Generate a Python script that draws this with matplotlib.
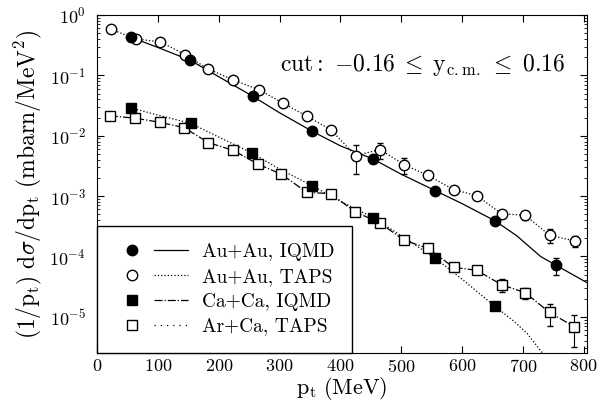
import matplotlib
matplotlib.use("Agg")
import matplotlib.pyplot as plt
from matplotlib.legend_handler import HandlerTuple
from matplotlib.lines import Line2D
import numpy as np

plt.rcParams['font.family'] = 'cmr10'
plt.rcParams['mathtext.fontset'] = 'cm'
plt.rcParams['axes.unicode_minus'] = False
plt.rcParams['axes.formatter.use_mathtext'] = True

# Au+Au, IQMD (filled circles + solid curve)
auau_iqmd_pt = [55, 153, 256, 354, 454, 556, 654, 755]
auau_iqmd_val = [0.43, 0.178, 0.045, 0.0118, 0.0041, 0.00123, 3.9e-4, 7.1e-5]
auau_iqmd_err = [0, 0, 0, 0, 0, 0, 0, 2.2e-5]
auau_curve_pt = [55, 100, 153, 200, 256, 300, 354, 400, 454, 500, 556, 600, 654, 690, 729, 755, 805]
auau_curve_val = [0.43, 0.29, 0.178, 0.095, 0.045, 0.024, 0.0118, 0.0068, 0.0041, 0.0023,
                  0.00123, 7.5e-4, 3.9e-4, 2.2e-4, 1.0e-4, 7.1e-5, 3.7e-5]

# Au+Au, TAPS (open circles)
auau_taps_pt = [23, 64, 104, 145, 183, 224, 267, 305, 345, 384, 425, 465, 505, 544, 586,
                624, 665, 704, 744, 786]
auau_taps_val = [0.58, 0.40, 0.36, 0.22, 0.127, 0.084, 0.057, 0.035, 0.021, 0.0126,
                 0.0047, 0.0059, 0.0033, 0.0022, 0.00128, 0.00102, 5.1e-4, 4.8e-4, 2.24e-4, 1.8e-4]
auau_taps_rel = [0.1, 0.08, 0.1, 0.1, 0.1, 0.1, 0.1, 0.1, 0.12, 0.12,
                 0.5, 0.3, 0.3, 0.15, 0.12, 0.12, 0.15, 0.15, 0.25, 0.2]

# Ca+Ca, IQMD (filled squares + dotted curve)
caca_iqmd_pt = [55, 154, 254, 354, 454, 555, 654]
caca_iqmd_val = [0.029, 0.016, 0.0052, 0.00148, 4.4e-4, 9.5e-5, 1.49e-5]
caca_iqmd_err = [0, 0, 0, 0, 0, 0, 1.5e-6]
caca_curve_pt = [55, 100, 154, 200, 254, 300, 354, 400, 454, 500, 555, 600, 654, 685, 707, 724, 735]
caca_curve_val = [0.029, 0.022, 0.016, 0.0095, 0.0052, 0.0028, 0.00148, 8.2e-4, 4.4e-4, 2.2e-4,
                  9.5e-5, 4.2e-5, 1.49e-5, 8.5e-6, 5.3e-6, 3.2e-6, 2.3e-6]

# Ar+Ca, TAPS (open squares)
arca_taps_pt = [21, 63, 103, 143, 183, 224, 264, 303, 345, 384, 424, 465, 504, 544, 586,
                624, 665, 704, 744, 784]
arca_taps_val = [0.0214, 0.0195, 0.0167, 0.0136, 0.0077, 0.0057, 0.0034, 0.0023, 0.00115, 0.0011,
                 5.5e-4, 3.6e-4, 1.87e-4, 1.36e-4, 6.6e-5, 5.9e-5, 3.4e-5, 2.5e-5, 1.18e-5, 6.9e-6]
arca_taps_rel = [0.15, 0.08, 0.08, 0.08, 0.08, 0.08, 0.08, 0.08, 0.08, 0.08,
                 0.08, 0.08, 0.08, 0.08, 0.1, 0.12, 0.25, 0.2, 0.4, 0.55]

fig = plt.figure(figsize=(6.03, 4.17), dpi=100)
ax = fig.add_axes([0.161, 0.1535, 0.812, 0.8105])

lw = 0.9
ms = 7.5

# curves
ax.plot(auau_curve_pt, auau_curve_val, '-', color='black', lw=lw)
ax.plot(auau_taps_pt, auau_taps_val, ':', color='black', lw=lw)
ax.plot(caca_curve_pt, caca_curve_val, ':', color='black', lw=lw)
ax.plot(arca_taps_pt, arca_taps_val, '-.', color='black', lw=lw)

# markers
ax.errorbar(auau_taps_pt, auau_taps_val, yerr=np.array(auau_taps_rel) * np.array(auau_taps_val),
            fmt='o', mfc='white', mec='black', ms=ms, ecolor='black', elinewidth=0.8, capsize=2.5)
ax.errorbar(arca_taps_pt, arca_taps_val, yerr=np.array(arca_taps_rel) * np.array(arca_taps_val),
            fmt='s', mfc='white', mec='black', ms=ms, ecolor='black', elinewidth=0.8, capsize=2.5)
ax.errorbar(auau_iqmd_pt, auau_iqmd_val, yerr=auau_iqmd_err,
            fmt='o', color='black', ms=ms, elinewidth=0.8, capsize=2.5)
ax.errorbar(caca_iqmd_pt, caca_iqmd_val, yerr=caca_iqmd_err,
            fmt='s', color='black', ms=ms, elinewidth=0.8, capsize=2.5)

ax.set_yscale('log')
ax.set_xlim(0, 805)
ax.set_ylim(10 ** -5.6, 1)
ax.set_xticks(range(0, 900, 100))
ax.tick_params(which='both', direction='in', top=True, right=True, labelsize=13)
ax.tick_params(which='major', length=5)
ax.tick_params(which='minor', length=2.5)
ax.tick_params(axis='y', pad=8)

ax.set_xlabel(r'$\mathrm{p_t\ (MeV)}$', fontsize=16, labelpad=0)
ax.set_ylabel(r'$\mathrm{(1/p_t)\ d}\sigma\mathrm{/dp_t\ (mbarn/MeV^2)}$', fontsize=17, labelpad=4)

ax.text(0.955, 0.852, r'$\mathrm{cut{:}\ {-}0.16}\;\leq\;\mathrm{y_{c.m.}}\;\leq\;\mathrm{0.16}$',
        transform=ax.transAxes, ha='right', va='center', fontsize=17)

# legend
handles = [
    (Line2D([], [], marker='o', ls='none', color='black', ms=ms), Line2D([], [], ls='-', color='black', lw=lw)),
    (Line2D([], [], marker='o', ls='none', mfc='white', mec='black', ms=ms), Line2D([], [], ls=':', color='black', lw=lw)),
    (Line2D([], [], marker='s', ls='none', color='black', ms=ms), Line2D([], [], ls='-.', color='black', lw=lw)),
    (Line2D([], [], marker='s', ls='none', mfc='white', mec='black', ms=ms), Line2D([], [], ls=(0, (1, 4)), color='black', lw=lw)),
]
labels = ['Au+Au, IQMD', 'Au+Au, TAPS', 'Ca+Ca, IQMD', 'Ar+Ca, TAPS']
leg = ax.legend(handles, labels, handler_map={tuple: HandlerTuple(ndivide=None, pad=0.3)},
                loc='lower left', borderaxespad=0, fontsize=14, handlelength=3.8,
                fancybox=False, framealpha=1, edgecolor='black', labelspacing=0.35,
                borderpad=0.9, handletextpad=0.7)
leg.get_frame().set_linewidth(1.0)

fig.savefig('out.png', dpi=100)
